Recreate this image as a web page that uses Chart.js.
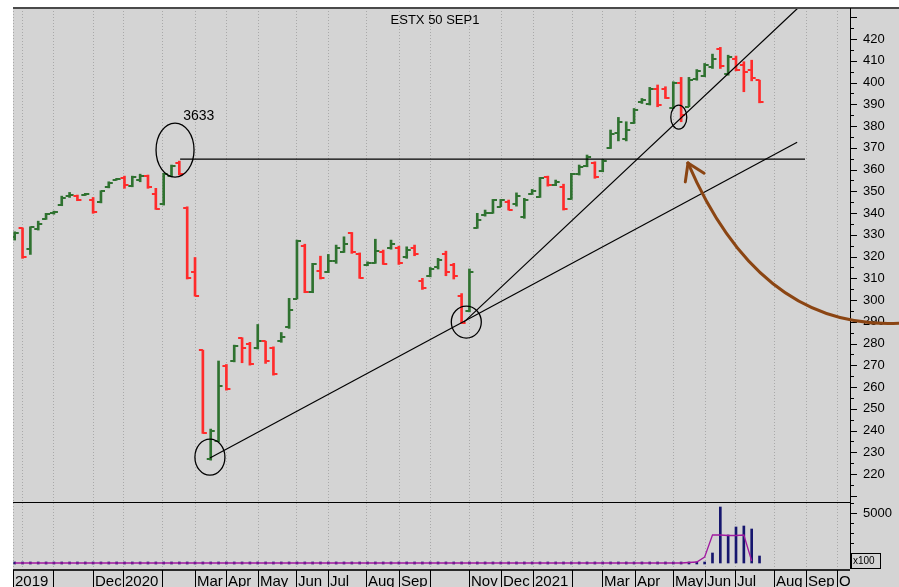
<!DOCTYPE html>
<html><head><meta charset="utf-8">
<script src="https://cdn.jsdelivr.net/npm/chart.js@4"></script>
<style>html,body{margin:0;padding:0;background:#fff}canvas{display:block}</style>
</head><body>
<canvas id="c" width="899" height="587"></canvas>
<script>
// ---- data (ESTX 50 SEP1 weekly bars, values /10) ----
const opens  = [329,333,323.3,332.5,337.5,340,343.5,348,348,348.3,346,345,352,355.3,356,352.5,355,357,349,344,357,363,
  342.5,312.7,277,227,235,269.5,272,282.5,280,278,281,278,281,287.5,300.5,325,303.5,313.5,313,318,322,331,321,316,317,322,
  324,324,320,324,309,311,315,321,316,302,295,333,339,340,343,345,344,338,349,347.5,356.5,353,352,346.5,358,361.5,363,359.5,
  370,377,374,381.5,391,390,397,397,388.5,400,389,401.5,403,407,415.5,404,411,408,406,401];
const highs  = [331.4,333.2,333.7,336.3,339.9,340.9,347.8,349.5,348.3,349.1,347.2,350.3,354.4,356,357,357,357.9,357.5,351.4,358.3,362.1,363.9,
  342.9,319.6,277,240.7,272,270.4,279.3,282.7,280.6,288.8,281.1,278.5,285.1,300.8,327.6,325.7,316.9,320.2,321,325.3,329.1,331.1,321.7,317.6,328,323,
  327.6,324.8,324.5,325.3,310,315,319.2,322.5,316.9,303,314.3,339.9,341.4,346.3,346.3,346,349.3,346.8,350.9,356.4,357,355.2,353.3,358.3,362.1,366.7,363.6,364.7,
  378.2,384,382,388.1,392.7,397.8,398.9,398.1,400.4,402.4,402.4,406,408.8,413.1,416.2,412.6,412.2,409.6,410.3,401.1];
const lows   = [327.6,319.2,321,332.2,337.1,339.5,343.4,347.2,345.7,348.1,339.9,344.7,351.6,355.2,351.4,352.1,354.4,351.4,341.7,343.7,356.7,357.5,
  309.7,301.8,238.7,226.4,234.9,258.6,271.6,271.2,270.1,277.5,270.9,265.5,280.6,287,300.5,303.4,303.4,309.7,312.6,316.9,321.9,321.5,310,315.8,316.9,316.4,
  323.4,316.4,319.2,320.4,304.9,310.7,314.3,311.2,309.7,289.3,294.6,333,338.6,339.9,342.9,341.4,343.2,337.6,348.6,347.2,352.4,352.6,341.4,346.3,357.5,361.3,356,359,
  369.7,373.2,373.2,381.2,390.4,389.7,388.9,392.7,388.1,382,388.9,401.1,402.7,406.5,406.5,403.4,405.4,395.8,400.8,390.7];
const closes = [331,320,333.5,335,339.5,340.5,347,348.5,346,349,340.5,350,354,355.8,353,356.5,357,352,342,358,361.5,358,
  310,302,239,240,260.5,259,279,278,270.5,281,272,266,283,295.5,327,303.5,316.5,310,318,324,326,322,310,317,322.5,316.5,
  326,317,323,321,305.5,314.5,318.5,313,311,289.5,313,337,340,346,346,341.5,348,346,350,356,353,354.5,342,358,361,366,356.5,364,
  376.5,382,378,387.5,392,397,389.5,393,400,385,401,405.5,408,411,407.5,412,406,405,402,391];
const volumes = [0,0,0,0,0,0,0,0,0,0,0,0,0,0,0,0,0,0,0,0,0,0,0,0,0,0,0,0,0,0,0,0,0,0,0,0,0,0,0,0,0,0,0,0,0,0,0,0,
  0,0,0,0,0,0,0,0,0,0,0,0,0,0,0,0,0,0,0,0,0,0,0,0,0,0,0,0,0,0,0,0,0,0,0,0,0,0,0,0,0,1000,5600,2800,3600,3700,3400,700];
const volumeAvg = [0,0,0,0,0,0,0,0,0,0,0,0,0,0,0,0,0,0,0,0,0,0,0,0,0,0,0,0,0,0,0,0,0,0,0,0,0,0,0,0,0,0,0,0,0,0,0,0,
  0,0,0,0,0,0,0,0,0,0,0,0,0,0,0,0,0,0,0,0,0,0,0,0,0,0,0,0,0,0,0,0,0,0,0,0,0,0,50,100,600,2800,2800,2750,2750,2800,200];
const monthStarts = [-0.18,4.89,9.99,13.81,18.79,22.99,26.95,31.03,35.88,39.96,44.81,49.02,52.97,57.95,62.03,66.11,71.08,74.91,79.12,83.97,88.05,91.88,96.85,100.93,104.89];
const monthLabels = ["2019","","Dec","2020","","Mar","Apr","May","Jun","Jul","Aug","Sep","","Nov","Dec","2021","","Mar","Apr","May","Jun","Jul","Aug","Sep","O"];
const extraGrid = [0.93];
const priceLabels = [220,230,240,250,260,270,280,290,300,310,320,330,340,350,360,370,380,390,400,410,420];
const volumeLabels = [5000];
const resistanceLine = [{x:21.1,y:364.8},{x:100.8,y:364.8}];
const supportLine = [{x:24.9,y:227.4},{x:99.8,y:372.6}];
const steepLine = [{x:57.3,y:289.9},{x:99.9,y:434.3}];
const circles = [{x:20.45,y:369.0},{x:24.9,y:227.8},{x:57.6,y:289.9},{x:84.7,y:384.1}];
const circleRadii = [[19,27],[15,18],[15,16],[8,12]];
const peakNote = {x:21.5,y:384.6,text:"3633"};
const arrowPath = [{x:112.8,y:289.4},{x:95.05,y:286.2},{x:85.88,y:363.0}];
const titleText = "ESTX 50 SEP1";

// ---- helpers ----
const GREEN = '#2f7230', RED = '#ff2b2b';
const up = i => closes[i] >= opens[i];
function tickImg(color, left){
  const c = document.createElement('canvas'); c.width = 10; c.height = 2;
  const g = c.getContext('2d'); g.fillStyle = color;
  if (left) g.fillRect(1,0,4,2); else g.fillRect(5,0,4,2);
  return c;
}
const imgs = {gL:tickImg(GREEN,true), gR:tickImg(GREEN,false), rL:tickImg(RED,true), rR:tickImg(RED,false)};
const FONT = "'Liberation Sans', Arial, sans-serif";

const bgPlugin = {
  id:'bg',
  beforeDraw(chart){
    const ctx = chart.ctx, ca = chart.chartArea;
    ctx.save();
    ctx.fillStyle = '#ffffff'; ctx.fillRect(0,0,chart.width,chart.height);
    ctx.fillStyle = '#d4d4d4'; ctx.fillRect(ca.left, ca.top, chart.width-ca.left, chart.height-ca.top);
    ctx.restore();
  },
  beforeDatasetsDraw(chart){
    const ctx = chart.ctx, ca = chart.chartArea, xs = chart.scales.x;
    ctx.save();
    ctx.strokeStyle = '#a9a9a9'; ctx.lineWidth = 1; ctx.setLineDash([1,2]);
    monthStarts.concat(extraGrid).forEach(m => {
      const px = Math.round(xs.getPixelForValue(m)) + 0.5;
      ctx.beginPath(); ctx.moveTo(px, ca.top); ctx.lineTo(px, ca.bottom); ctx.stroke();
    });
    ctx.restore();
  },
  afterDraw(chart){
    const ctx = chart.ctx, ca = chart.chartArea, xs = chart.scales.x, ys = chart.scales.y, yv = chart.scales.yv;
    ctx.save();
    // frame lines
    ctx.fillStyle = '#4a4a4a'; ctx.fillRect(ca.left, ca.top-1, chart.width-ca.left, 2);
    ctx.fillStyle = '#000'; ctx.fillRect(ca.left, 502, ca.right-ca.left, 1);
    ctx.fillStyle = '#2a2a2a'; ctx.fillRect(ca.left, ca.bottom, ca.right-ca.left, 2);
    ctx.fillStyle = '#000'; ctx.fillRect(ca.right, ca.top, 1, ca.bottom-ca.top);
    // price axis ticks
    for (let v = 210; v <= 430; v += 5){
      const py = Math.round(ys.getPixelForValue(v));
      const len = (v % 10 === 0) ? 7 : 4;
      ctx.fillRect(ca.right, py, len, 1);
    }
    ctx.font = '13px ' + FONT; ctx.textBaseline = 'middle'; ctx.textAlign = 'left';
    priceLabels.forEach(v => ctx.fillText(String(v), 863, ys.getPixelForValue(v)));
    // volume axis ticks
    for (let v = 1000; v <= 6000; v += 1000){
      const py = Math.round(yv.getPixelForValue(v));
      ctx.fillRect(ca.right, py, v === 5000 ? 7 : 4, 1);
    }
    volumeLabels.forEach(v => ctx.fillText(String(v), 863, yv.getPixelForValue(v)));
    // x100 box
    ctx.strokeStyle = '#000'; ctx.lineWidth = 1;
    ctx.strokeRect(851.5, 553.5, 29, 15);
    ctx.font = '10px ' + FONT; ctx.fillText('x100', 853, 561.5);
    // month label band
    ctx.font = '15px ' + FONT; ctx.textBaseline = 'alphabetic';
    monthStarts.forEach((m, k) => {
      const px = Math.round(xs.getPixelForValue(m));
      ctx.fillRect(px, ca.bottom+1, 1, chart.height-ca.bottom);
      if (monthLabels[k]) ctx.fillText(monthLabels[k], px+2, 586);
    });
    // title
    ctx.font = '13px ' + FONT; ctx.textAlign = 'center'; ctx.textBaseline = 'middle';
    ctx.fillText(titleText, 435, 20);
    // peak note
    ctx.font = '14px ' + FONT; ctx.textAlign = 'left';
    ctx.fillText(peakNote.text, xs.getPixelForValue(peakNote.x), ys.getPixelForValue(peakNote.y));
    // circles
    ctx.lineWidth = 1.3; ctx.strokeStyle = '#000';
    circles.forEach((c, k) => {
      ctx.beginPath();
      ctx.ellipse(xs.getPixelForValue(c.x), ys.getPixelForValue(c.y), circleRadii[k][0], circleRadii[k][1], 0, 0, Math.PI*2);
      ctx.stroke();
    });
    // arrow
    const P = arrowPath.map(p => [xs.getPixelForValue(p.x), ys.getPixelForValue(p.y)]);
    ctx.strokeStyle = '#8b4513'; ctx.lineWidth = 3; ctx.lineCap = 'round';
    ctx.beginPath(); ctx.moveTo(P[0][0], P[0][1]); ctx.quadraticCurveTo(P[1][0], P[1][1], P[2][0], P[2][1]); ctx.stroke();
    const ang = Math.atan2(P[1][1]-P[2][1], P[1][0]-P[2][0]);
    [ -0.6, 0.55 ].forEach(d => {
      ctx.beginPath(); ctx.moveTo(P[2][0], P[2][1]);
      ctx.lineTo(P[2][0] + 19*Math.cos(ang+d), P[2][1] + 19*Math.sin(ang+d)); ctx.stroke();
    });
    ctx.restore();
  }
};

const idx = opens.map((_, i) => i);
const lineDs = (data) => ({type:'line', data, borderColor:'#000', borderWidth:1.2, pointRadius:0, fill:false, xAxisID:'x', yAxisID:'y', order:0});

new Chart(document.getElementById('c'), {
  type:'bar',
  data:{
    datasets:[
      {type:'bar', data: idx.map(i => ({x:i, y:[lows[i], highs[i]]})), backgroundColor: idx.map(i => up(i)?GREEN:RED),
        barThickness:2, grouped:false, borderWidth:0, xAxisID:'x', yAxisID:'y', order:2},
      {type:'scatter', data: idx.map(i => ({x:i, y:opens[i]})), pointStyle: idx.map(i => up(i)?imgs.gL:imgs.rL), pointRadius:3, xAxisID:'x', yAxisID:'y', order:1},
      {type:'scatter', data: idx.map(i => ({x:i, y:closes[i]})), pointStyle: idx.map(i => up(i)?imgs.gR:imgs.rR), pointRadius:3, xAxisID:'x', yAxisID:'y', order:1},
      {type:'bar', data: idx.map(i => ({x:i, y:volumes[i]})), backgroundColor:'#16166e', barThickness:2, minBarLength:2, grouped:false, borderWidth:0, xAxisID:'x', yAxisID:'yv', order:3},
      {type:'line', data: idx.map(i => ({x:i, y:volumeAvg[i]})), borderColor:'#a01aa0', borderWidth:1.3, pointRadius:0, fill:false, xAxisID:'x', yAxisID:'yv', order:2},
      lineDs(resistanceLine), lineDs(supportLine), lineDs(steepLine)
    ]
  },
  options:{
    responsive:false, animation:false, devicePixelRatio:1,
    layout:{padding:{left:13, top:8, right:49, bottom:18}},
    plugins:{legend:{display:false}, tooltip:{enabled:false}, title:{display:false}},
    events:[],
    scales:{
      x:{type:'linear', min:-0.217, max:106.54, offset:false, display:false},
      y:{type:'linear', min:176.37, max:434.3, display:false},
      yv:{type:'linear', min:-600, max:55500, display:false}
    }
  },
  plugins:[bgPlugin]
});
</script>
</body></html>
